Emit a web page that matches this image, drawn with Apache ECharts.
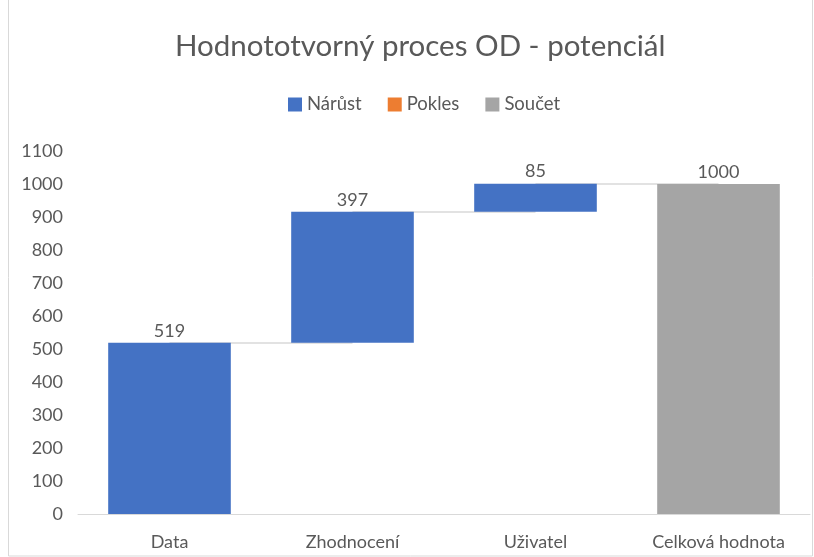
<!DOCTYPE html>
<html>
<head>
<meta charset="utf-8">
<script src="https://cdn.jsdelivr.net/npm/echarts@6/dist/echarts.min.js"></script>
<style>
  html, body { margin: 0; padding: 0; background: #fff; }
  #chart { width: 814px; height: 557px; }
</style>
</head>
<body>
<div id="chart"></div>
<script>
// vodopádový graf
const categories = ['Data', 'Zhodnocení', 'Uživatel', 'Celková hodnota'];
const increase = [519, 397, 85, null];
const decrease = [null, null, null, null];
const total = [null, null, null, 1000];
const yTicks = [0, 1100, 100]; // min, max, krok

// neviditelná základna pro skládané sloupce
const base = [];
let running = 0;
for (let i = 0; i < categories.length; i++) {
    if (increase[i] != null) {
        base.push(running);
        running += increase[i];
    } else if (decrease[i] != null) {
        running -= decrease[i];
        base.push(running);
    } else {
        base.push(0);
    }
}

// spojnice mezi sloupci
const tops = categories.map((c, i) => total[i] != null ? total[i] : base[i] + (increase[i] || 0));
const connectors = [];
for (let i = 0; i < categories.length - 1; i++) {
    connectors.push([{coord: [i, tops[i]]}, {coord: [i + 1, tops[i]]}]);
}

const font = 'Lato, "Open Sans", sans-serif';
const textColor = '#595959';
const labelStyle = {show: true, position: 'top', fontFamily: font, fontSize: 18, color: textColor, distance: 3};

const chart = echarts.init(document.getElementById('chart'));
chart.setOption({
    animation: false,
    title: {
        text: 'Hodnototvorný proces OD - potenciál',
        left: 170,
        top: 26,
        textStyle: {fontFamily: font, fontSize: 29.5, fontWeight: 'normal', color: textColor}
    },
    legend: {
        data: ['Nárůst', 'Pokles', 'Součet'],
        top: 90,
        left: 283,
        itemWidth: 14,
        itemHeight: 14,
        itemGap: 26,
        icon: 'rect',
        textStyle: {fontFamily: font, fontSize: 18.5, color: textColor}
    },
    graphic: [{
        type: 'rect',
        shape: {x: 8.5, y: -1, width: 804, height: 557},
        style: {fill: 'none', stroke: '#d9d9d9', lineWidth: 1},
        silent: true
    }],
    grid: {left: 78, right: 4, top: 151, bottom: 43},
    xAxis: {
        type: 'category',
        data: categories,
        axisTick: {show: false},
        axisLine: {lineStyle: {color: '#d9d9d9'}},
        axisLabel: {fontFamily: font, fontSize: 18, color: textColor, margin: 19}
    },
    yAxis: {
        type: 'value',
        min: yTicks[0],
        max: yTicks[1],
        interval: yTicks[2],
        splitLine: {show: false},
        axisLine: {show: false},
        axisTick: {show: false},
        axisLabel: {fontFamily: font, fontSize: 18, color: textColor, margin: 15, formatter: v => String(v)}
    },
    series: [
        {
            name: 'base',
            type: 'bar',
            stack: 'wf',
            data: base,
            barWidth: '67%',
            itemStyle: {color: 'transparent'},
            z: 1,
            silent: true,
            markLine: {
                symbol: 'none',
                silent: true,
                z: 1,
                label: {show: false},
                lineStyle: {color: '#d9d9d9', type: 'solid', width: 1.5},
                data: connectors
            }
        },
        {
            name: 'Nárůst',
            type: 'bar',
            stack: 'wf',
            data: increase,
            itemStyle: {color: '#4472c4'},
            z: 3,
            label: labelStyle
        },
        {
            name: 'Pokles',
            type: 'bar',
            stack: 'wf',
            data: decrease,
            itemStyle: {color: '#ed7d31'},
            z: 3,
            label: labelStyle
        },
        {
            name: 'Součet',
            type: 'bar',
            stack: 'wf',
            data: total,
            itemStyle: {color: '#a5a5a5'},
            z: 3,
            label: labelStyle
        }
    ]
});
</script>
</body>
</html>
